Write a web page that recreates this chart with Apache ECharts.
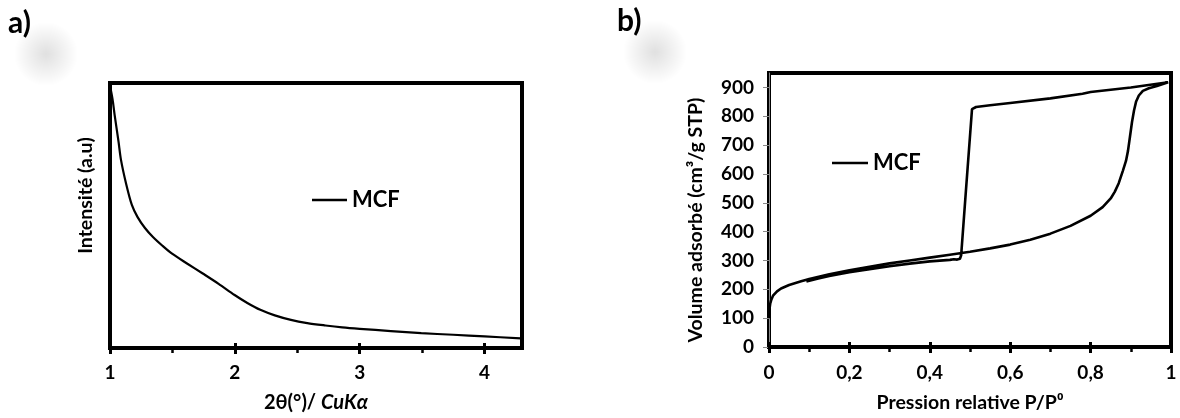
<!DOCTYPE html>
<html><head><meta charset="utf-8">
<script src="https://cdn.jsdelivr.net/npm/echarts@6/dist/echarts.min.js"></script>
<style>html,body{margin:0;padding:0;background:#fff}#c{width:1180px;height:418px}</style>
</head><body><div id="c"></div>
<script>
// ---- Panel a) : XRD (small angle) ----
const thetaA  = [1.0, 1.02, 1.037, 1.068, 1.088, 1.129, 1.175, 1.221, 1.28, 1.344, 1.42, 1.497, 1.62, 1.743, 1.87, 1.998, 2.1, 2.204, 2.32, 2.449, 2.58, 2.726, 2.86, 3.0, 3.25, 3.493, 3.75, 4.0, 4.29];
const intensA = [99, 94, 88, 78, 71, 62, 54, 49.4, 45.3, 41.9, 38.6, 35.6, 31.8, 28.1, 24.2, 20, 17, 14.4, 12.3, 10.6, 9.4, 8.5, 7.8, 7.25, 6.4, 5.6, 5.0, 4.4, 3.6];
const majorTicksA = [1, 2, 3, 4];
const minorTicksA = [1.5, 2.5, 3.5];

// ---- Panel b) : N2 isotherm ----
const pressAds = [0, 0.001, 0.003, 0.006, 0.01, 0.02, 0.03, 0.05, 0.08, 0.1, 0.15, 0.2, 0.25, 0.3, 0.35, 0.4, 0.45, 0.5, 0.55, 0.6, 0.65, 0.7, 0.75, 0.8, 0.83, 0.85, 0.86, 0.87, 0.88, 0.888, 0.893, 0.898, 0.903, 0.908, 0.913, 0.92, 0.93, 0.945, 0.965, 0.993];
const volAds   = [100, 130, 150, 165, 178, 193, 203, 215, 228, 236, 252, 266, 278, 290, 300, 310, 320, 330, 342, 355, 372, 393, 420, 455, 485, 515, 538, 568, 610, 645, 680, 730, 780, 820, 850, 872, 888, 897, 905, 918];
const pressDes = [0.993, 0.9, 0.8, 0.78, 0.7, 0.6, 0.55, 0.515, 0.505, 0.49, 0.478, 0.475, 0.468, 0.46, 0.45, 0.4, 0.35, 0.3, 0.25, 0.2, 0.15, 0.12, 0.093];
const volDes   = [918, 900, 884, 878, 862, 846, 838, 832, 825, 545, 318, 306, 303, 304, 302, 297, 289, 280, 270, 259, 246, 237, 227];
const xTicksB  = [0, 0.2, 0.4, 0.6, 0.8, 1];
const xLabelsB = ['0', '0,2', '0,4', '0,6', '0,8', '1'];
const minorTicksB = [0.1, 0.3, 0.5, 0.7, 0.9];
const yTicksB  = [0, 100, 200, 300, 400, 500, 600, 700, 800, 900];
const seriesName = 'MCF';

const FONT = 'Lato, "Open Sans", sans-serif';
const B = {fontFamily: FONT, fontWeight: 'bold', color: '#000'};
const chart = echarts.init(document.getElementById('c'), null, {renderer: 'canvas'});

function hiddenAxis(grid, min, max, ticks, len, inside, w) {
  return {gridIndex: grid, type: 'value', min: min, max: max, position: 'bottom',
    axisLine: {show: false}, axisLabel: {show: false}, splitLine: {show: false},
    axisTick: {show: true, customValues: ticks, inside: inside, length: len, lineStyle: {color: '#000', width: w}}};
}
function blob(cx, cy) {
  return {type: 'circle', shape: {cx: cx, cy: cy, r: 32}, silent: true,
    style: {fill: {type: 'radial', x: 0.5, y: 0.5, r: 0.5,
      colorStops: [{offset: 0, color: 'rgba(0,0,0,0.12)'}, {offset: 1, color: 'rgba(0,0,0,0)'}]}}};
}

chart.setOption({
  animation: false,
  grid: [
    {left: 110, top: 83, width: 412, height: 265, show: true, borderColor: '#000', borderWidth: 4},
    {left: 769, top: 73, width: 402, height: 277, show: true, borderColor: '#000', borderWidth: 4}
  ],
  xAxis: [
    {gridIndex: 0, type: 'value', min: 1, max: 4.3, position: 'bottom',
      axisLine: {show: true, onZero: false, lineStyle: {color: '#000', width: 4}},
      axisTick: {show: true, customValues: majorTicksA, length: 6, lineStyle: {color: '#000', width: 3}},
      axisLabel: Object.assign({customValues: majorTicksA, margin: 15, fontSize: 19}, B),
      splitLine: {show: false},
      name: '{n|2θ(°)/ }{i|CuKα}', nameLocation: 'middle', nameGap: 45,
      nameTextStyle: {rich: {
        n: Object.assign({fontSize: 20}, B),
        i: Object.assign({fontSize: 20, fontStyle: 'italic'}, B)}}},
    hiddenAxis(0, 1, 4.3, minorTicksA, 5, false, 2.5),
    hiddenAxis(0, 1, 4.3, majorTicksA, 5, true, 3),
    {gridIndex: 1, type: 'value', min: 0, max: 1, position: 'bottom',
      axisLine: {show: true, onZero: false, lineStyle: {color: '#000', width: 4}},
      axisTick: {show: true, customValues: xTicksB, length: 6, lineStyle: {color: '#000', width: 3}},
      axisLabel: Object.assign({customValues: xTicksB, margin: 16, fontSize: 19,
        formatter: v => xLabelsB[xTicksB.findIndex(t => Math.abs(t - v) < 1e-9)]}, B),
      splitLine: {show: false},
      name: 'Pression relative P/P⁰', nameLocation: 'middle', nameGap: 46,
      nameTextStyle: Object.assign({fontSize: 19.5}, B)},
    hiddenAxis(1, 0, 1, minorTicksB, 5, false, 2.5),
    hiddenAxis(1, 0, 1, xTicksB, 5, true, 3)
  ],
  yAxis: [
    {gridIndex: 0, type: 'value', min: 0, max: 100,
      axisLine: {show: true, lineStyle: {color: '#000', width: 4}},
      axisTick: {show: false}, axisLabel: {show: false}, splitLine: {show: false},
      name: 'Intensité (a.u)', nameLocation: 'middle', nameGap: 14,
      nameTextStyle: Object.assign({fontSize: 19.5, padding: [0, 0, 0, 40]}, B)},
    {gridIndex: 1, type: 'value', min: 0, max: 950, offset: 3,
      axisLine: {show: true, lineStyle: {color: '#888', width: 1}},
      axisTick: {show: true, customValues: yTicksB, length: 6, lineStyle: {color: '#888', width: 1}},
      axisLabel: Object.assign({customValues: yTicksB, margin: 12, fontSize: 19}, B),
      splitLine: {show: false},
      name: 'Volume adsorbé (cm³/g STP)', nameLocation: 'middle', nameGap: 60,
      nameTextStyle: Object.assign({fontSize: 19.5, padding: [0, 20, 0, 0]}, B)}
  ],
  legend: [
    {left: 312, top: 189, padding: 0, data: [seriesName], icon: 'rect', itemWidth: 35, itemHeight: 2.5,
      selectedMode: false, textStyle: Object.assign({fontSize: 22}, B)},
    {left: 832, top: 152, padding: 0, data: [seriesName], icon: 'rect', itemWidth: 36, itemHeight: 2.5,
      selectedMode: false, textStyle: Object.assign({fontSize: 22}, B)}
  ],
  graphic: [
    blob(46, 54), blob(655, 52),
    {type: 'text', left: 8, top: 8, style: {text: 'a)', fontSize: 30, fontWeight: 'bold', fontFamily: FONT, fill: '#000'}},
    {type: 'text', left: 617, top: 6, style: {text: 'b)', fontSize: 30, fontWeight: 'bold', fontFamily: FONT, fill: '#000'}}
  ],
  series: [
    {type: 'line', name: seriesName, xAxisIndex: 0, yAxisIndex: 0,
      data: thetaA.map((x, i) => [x, intensA[i]]),
      showSymbol: false, smooth: 0.3, color: '#000', lineStyle: {color: '#000', width: 2.2}, z: 3},
    {type: 'line', name: seriesName, xAxisIndex: 3, yAxisIndex: 1,
      data: pressAds.map((x, i) => [x, volAds[i]]).concat(pressDes.map((x, i) => [x, volDes[i]])),
      showSymbol: false, smooth: false, color: '#000', lineStyle: {color: '#000', width: 2.6}, z: 3}
  ]
});
</script></body></html>
